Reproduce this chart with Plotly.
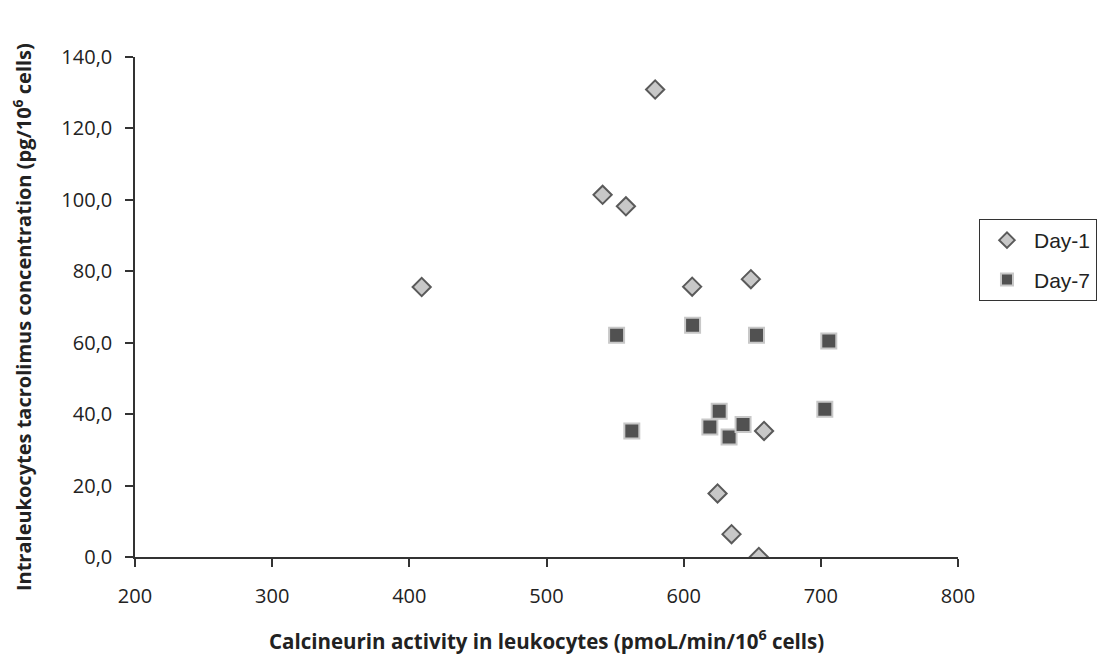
import plotly.graph_objects as go

# Data
day1_x = [409.0, 579.2, 540.9, 557.9, 606.2, 649.0, 658.6, 624.7, 634.9, 654.8]
day1_y = [75.6, 130.9, 101.4, 98.2, 75.7, 77.8, 35.3, 17.8, 6.4, 0.0]

day7_x = [551.1, 606.5, 562.2, 625.9, 619.1, 633.1, 643.3, 653.1, 705.8, 702.9]
day7_y = [62.1, 64.9, 35.3, 40.8, 36.4, 33.6, 37.1, 62.1, 60.5, 41.4]

x_ticks = [200, 300, 400, 500, 600, 700, 800]
y_ticks = [0, 20, 40, 60, 80, 100, 120, 140]

x_title = "<b>Calcineurin activity in leukocytes (pmoL/min/10<sup>6</sup> cells)</b>"
y_title = "<b>Intraleukocytes tacrolimus concentration (pg/10<sup>6</sup> cells)</b>"

tick_font = dict(family="Open Sans, Noto Sans, sans-serif", size=20, color="#222222")
xtitle_font = dict(family="Open Sans, Noto Sans, sans-serif", size=20.5, color="#222222")
ytitle_font = dict(family="Open Sans, Noto Sans, sans-serif", size=20, color="#222222")

fig = go.Figure()
fig.add_trace(go.Scatter(
    x=day1_x, y=day1_y, mode="markers", name="Day-1", legendgroup="d1",
    marker=dict(symbol="diamond", size=14, color="#C8C8C8",
                line=dict(color="#5A5A5A", width=2)),
))
fig.add_trace(go.Scatter(
    x=day7_x, y=day7_y, mode="markers", name="Day-7", legendgroup="d7",
    marker=dict(symbol="square", size=15, color="#515151",
                line=dict(color="#C8C8C8", width=2)),
))

fig.update_layout(
    width=1117, height=661,
    margin=dict(l=127, r=166.6, t=49, b=112.3, autoexpand=False),
    paper_bgcolor="white", plot_bgcolor="white",
    separators=", ",
    showlegend=True,
    legend=dict(
        x=1.0255, y=0.676, xanchor="left", yanchor="top",
        bordercolor="#333333", borderwidth=1,
        font=dict(family="Liberation Sans, Arial, sans-serif", size=21, color="#222222"),
        itemsizing="constant",
        tracegroupgap=9,
        itemwidth=44,
    ),
    xaxis=dict(
        range=[200, 800], tickvals=x_ticks, ticktext=[str(v) for v in x_ticks],
        showgrid=False, zeroline=False,
        showline=True, linecolor="#333333", linewidth=1.5,
        ticks="outside", ticklen=8, tickcolor="#333333", tickwidth=1.5,
        tickfont=tick_font, ticklabelstandoff=12,
        automargin=False,
    ),
    yaxis=dict(
        range=[0, 140], tickvals=y_ticks, tickformat=".1f",
        showgrid=False, zeroline=False,
        showline=True, linecolor="#333333", linewidth=1.5,
        ticks="outside", ticklen=8, tickcolor="#333333", tickwidth=1.5,
        tickfont=tick_font, ticklabelstandoff=9,
        automargin=False,
    ),
    annotations=[
        dict(text=x_title, xref="paper", yref="paper", x=0.5004, y=-0.1667,
             xanchor="center", yanchor="middle", showarrow=False, font=xtitle_font),
        dict(text=y_title, xref="paper", yref="paper", x=-0.1372, y=0.48,
             xanchor="center", yanchor="middle", showarrow=False, textangle=-90,
             font=ytitle_font),
    ],
)

fig.write_html("out.html")
